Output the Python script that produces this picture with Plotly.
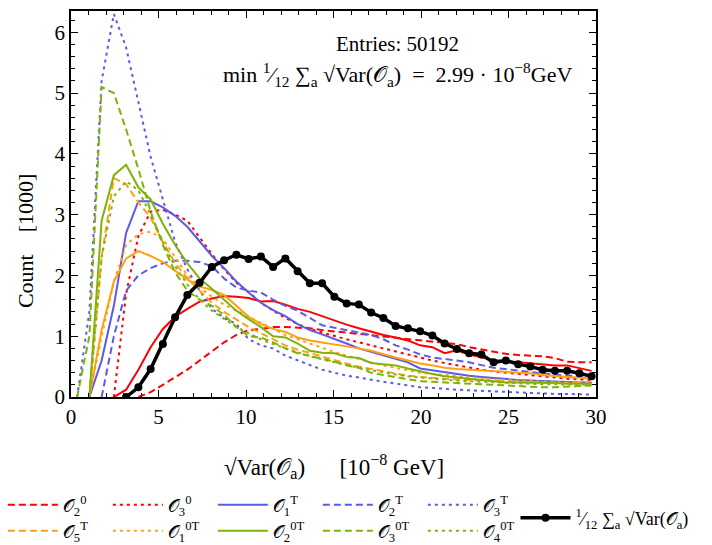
import plotly.graph_objects as go

# ---------------- data (counts in units of 1000) ----------------
bin_width = 0.7
n_bins = 43
bin_centers = [(i + 0.5) * bin_width for i in range(n_bins)]

o1_0 = [None] * 3 + [0.0, 0.12, 0.45, 0.82, 1.12, 1.32, 1.45, 1.57, 1.62, 1.66, 1.65, 1.63, 1.57, 1.58,
                     1.52, 1.45, 1.40, 1.33, 1.25, 1.19, 1.13, 1.07, 1.02, 0.98, 0.93, 0.85, 0.82, 0.72,
                     0.77, 0.70, 0.65, 0.61, 0.59, 0.57, 0.55, 0.53, 0.52, 0.52, 0.48, 0.43]
o2_0 = [None] * 5 + [0.0, 0.08, 0.20, 0.33, 0.45, 0.60, 0.75, 0.90, 1.02, 1.10, 1.12, 1.15, 1.15, 1.14,
                     1.13, 1.10, 1.08, 1.06, 1.04, 1.02, 1.00, 0.97, 0.95, 0.93, 0.91, 0.90, 0.87, 0.82,
                     0.78, 0.74, 0.71, 0.69, 0.68, 0.67, 0.64, 0.58, 0.57, 0.57]
o3_0 = [None] * 3 + [0.0, 1.70, 2.65, 3.05, 3.08, 3.00, 2.90, 2.62, 2.35, 2.10, 1.88, 1.73, 1.55, 1.42,
                     1.30, 1.20, 1.12, 1.06, 1.00, 0.95, 0.90, 0.85, 0.80, 0.74, 0.70, 0.65, 0.60, 0.56,
                     0.52, 0.48, 0.45, 0.42, 0.40, 0.37, 0.35, 0.34, 0.32, 0.30, 0.29, 0.28]
o1_T = [None] + [0.0, 0.60, 1.50, 2.70, 3.22, 3.22, 3.12, 2.98, 2.80, 2.55, 2.32, 2.12, 1.90, 1.72, 1.55,
                 1.43, 1.33, 1.20, 1.10, 1.03, 0.96, 0.88, 0.80, 0.74, 0.68, 0.63, 0.57, 0.47, 0.44, 0.40,
                 0.37, 0.35, 0.33, 0.31, 0.30, 0.28, 0.27, 0.26, 0.25, 0.25, 0.24, 0.24]
o2_T = [None] * 2 + [0.0, 1.00, 1.75, 2.00, 2.12, 2.20, 2.24, 2.24, 2.22, 2.15, 1.95, 1.80, 1.75, 1.72,
                     1.60, 1.50, 1.42, 1.30, 1.18, 1.14, 1.10, 1.07, 1.02, 0.95, 0.85, 0.78, 0.70, 0.65,
                     0.63, 0.60, 0.57, 0.52, 0.48, 0.46, 0.43, 0.41, 0.39, 0.37, 0.35, 0.35, 0.34]
o3_T = [0.0, 1.40, 5.20, 6.30, 5.75, 4.85, 3.95, 3.25, 2.55, 2.10, 1.75, 1.45, 1.30, 1.20, 0.95, 0.85,
        0.80, 0.68, 0.60, 0.52, 0.45, 0.40, 0.35, 0.32, 0.28, 0.25, 0.22, 0.19, 0.16, 0.15, 0.13, 0.12,
        0.11, 0.10, 0.09, 0.08, 0.07, 0.06, 0.06, 0.05, 0.05, 0.04, 0.04]
o4_T = [None] + [0.0, 1.10, 1.90, 2.28, 2.40, 2.32, 2.22, 2.07, 1.93, 1.82, 1.76, 1.68, 1.50, 1.32, 1.20,
                 1.12, 1.07, 0.98, 0.93, 0.90, 0.86, 0.83, 0.80, 0.76, 0.70, 0.65, 0.60, 0.55, 0.52, 0.48,
                 0.46, 0.45, 0.43, 0.42, 0.41, 0.41, 0.39, 0.36, 0.34, 0.33, 0.32, 0.30]
o5_T = [None] + [0.0, 2.30, 3.60, 3.50, 3.20, 2.95, 2.55, 2.20, 1.95, 1.75, 1.55, 1.40, 1.28, 1.15, 1.05,
                 0.95, 0.85, 0.78, 0.72, 0.66, 0.60, 0.55, 0.50, 0.46, 0.42, 0.38, 0.35, 0.33, 0.31, 0.30,
                 0.29, 0.28, 0.27, 0.26, 0.26, 0.25, 0.25, 0.24, 0.24, 0.23, 0.23, 0.22]
o1_0T = [None] + [0.0, 1.00, 1.90, 2.50, 2.68, 2.72, 2.60, 2.30, 2.00, 1.80, 1.65, 1.52, 1.42, 1.32, 1.22,
                  1.12, 1.02, 0.95, 0.88, 0.80, 0.74, 0.68, 0.62, 0.57, 0.52, 0.48, 0.44, 0.40, 0.38, 0.36,
                  0.34, 0.32, 0.30, 0.29, 0.28, 0.27, 0.26, 0.25, 0.24, 0.23, 0.23, 0.22]
o2_0T = [None] + [0.0, 2.90, 3.65, 3.82, 3.45, 3.25, 2.85, 2.50, 2.20, 1.95, 1.78, 1.60, 1.42, 1.28, 1.15,
                  1.00, 0.98, 0.88, 0.76, 0.73, 0.72, 0.66, 0.64, 0.56, 0.54, 0.52, 0.47, 0.42, 0.38, 0.34,
                  0.32, 0.30, 0.28, 0.25, 0.24, 0.24, 0.24, 0.23, 0.23, 0.22, 0.22, 0.22]
o3_0T = [0.0, 1.00, 5.10, 5.00, 4.40, 3.75, 3.05, 2.50, 2.05, 1.75, 1.60, 1.50, 1.35, 1.15, 1.00, 0.98,
         0.90, 0.80, 0.72, 0.68, 0.63, 0.58, 0.52, 0.48, 0.40, 0.36, 0.33, 0.30, 0.26, 0.25, 0.24, 0.23,
         0.21, 0.20, 0.19, 0.18, 0.17, 0.16, 0.16, 0.16, 0.17, 0.18, 0.19]
o4_0T = [None] + [0.0, 2.30, 3.30, 3.55, 3.40, 3.00, 2.55, 2.15, 1.85, 1.60, 1.42, 1.28, 1.15, 1.05, 0.95,
                  0.87, 0.80, 0.73, 0.67, 0.62, 0.57, 0.52, 0.48, 0.44, 0.40, 0.37, 0.34, 0.32, 0.30, 0.28,
                  0.27, 0.26, 0.25, 0.24, 0.23, 0.22, 0.22, 0.21, 0.21, 0.20, 0.20, 0.20]
mean_sd = [None] * 4 + [0.0, 0.16, 0.46, 0.87, 1.31, 1.68, 1.88, 2.14, 2.25, 2.34, 2.27, 2.31, 2.14, 2.28,
                        2.07, 1.87, 1.87, 1.65, 1.54, 1.52, 1.39, 1.30, 1.17, 1.13, 1.08, 1.01, 0.88, 0.79,
                        0.72, 0.70, 0.57, 0.60, 0.54, 0.50, 0.45, 0.43, 0.43, 0.39, 0.34]

x_ticks = [0, 5, 10, 15, 20, 25, 30]
y_ticks = [0, 1, 2, 3, 4, 5, 6]

O = "𝒪"
RED, BLUE, ORANGE, GREEN = "#ff0000", "#5a5aeb", "#ffa010", "#80b20a"
DASH, DOT = "7px,4px", "3px,4px"

series = [
    # name, values, color, dash, legend (None = not listed), rank
    (f"{O}<sub>1</sub><sup>0</sup>", o1_0, RED, "solid", None, 0),
    (f"{O}<sub>2</sub><sup>0</sup>", o2_0, RED, DASH, "legend", 1),
    (f"{O}<sub>3</sub><sup>0</sup>", o3_0, RED, DOT, "legend", 2),
    (f"{O}<sub>1</sub><sup>T</sup>", o1_T, BLUE, "solid", "legend", 3),
    (f"{O}<sub>2</sub><sup>T</sup>", o2_T, BLUE, DASH, "legend", 4),
    (f"{O}<sub>3</sub><sup>T</sup>", o3_T, BLUE, DOT, "legend", 5),
    (f"{O}<sub>4</sub><sup>T</sup>", o4_T, ORANGE, "solid", None, 0),
    (f"{O}<sub>5</sub><sup>T</sup>", o5_T, ORANGE, DASH, "legend2", 1),
    (f"{O}<sub>1</sub><sup>0T</sup>", o1_0T, ORANGE, DOT, "legend2", 2),
    (f"{O}<sub>2</sub><sup>0T</sup>", o2_0T, GREEN, "solid", "legend2", 3),
    (f"{O}<sub>3</sub><sup>0T</sup>", o3_0T, GREEN, DASH, "legend2", 4),
    (f"{O}<sub>4</sub><sup>0T</sup>", o4_0T, GREEN, DOT, "legend2", 5),
]

fig = go.Figure()
for name, vals, color, dash, leg, rank in series:
    fig.add_trace(go.Scatter(
        x=bin_centers, y=vals, mode="lines", name=name,
        line=dict(color=color, width=2, dash=dash),
        showlegend=leg is not None, legend=leg or "legend", legendrank=rank,
        connectgaps=False,
    ))

fig.add_trace(go.Scatter(
    x=bin_centers, y=mean_sd, mode="lines+markers",
    name="<sup>1</sup>⁄<sub>12</sub> ∑<sub>a</sub> √Var(" + O + "<sub>a</sub>)",
    line=dict(color="black", width=3.5), marker=dict(color="black", size=8),
    legend="legend3",
))

FONT = "Liberation Serif"
axis_common = dict(
    showline=True, linecolor="black", linewidth=1.5, mirror="ticks",
    ticks="inside", ticklen=7, tickwidth=1.2, tickcolor="black",
    showgrid=False, zeroline=False,
    tickfont=dict(family=FONT, size=21, color="black"),
)

fig.update_xaxes(range=[0, 30], tickvals=x_ticks,
                 minor=dict(dtick=1, ticks="inside", ticklen=4, tickcolor="black", tickwidth=1),
                 **axis_common)
fig.update_yaxes(range=[0, 6.35], tickvals=y_ticks,
                 minor=dict(dtick=0.2, ticks="inside", ticklen=4, tickcolor="black", tickwidth=1),
                 **axis_common)

leg_common = dict(orientation="h", xref="container", yref="container", xanchor="left", yanchor="middle",
                  font=dict(family=FONT, size=18, color="black"), bgcolor="rgba(0,0,0,0)",
                  itemwidth=50, tracegroupgap=0)

fig.update_layout(
    width=712, height=545,
    margin=dict(l=71, r=116, t=9, b=148),
    paper_bgcolor="white", plot_bgcolor="white",
    font=dict(family=FONT, size=19, color="black"),
    legend=dict(x=0.004, y=1 - 505 / 545, entrywidthmode="pixels", entrywidth=40, **leg_common),
    legend2=dict(x=0.004, y=1 - 531 / 545, entrywidthmode="pixels", entrywidth=40, **leg_common),
    legend3=dict(x=0.724, y=1 - 518 / 545, **leg_common),
    annotations=[
        dict(text="Entries: 50192", xref="paper", yref="paper", x=0.621, y=(396.5 - 42) / 387.5,
             yanchor="middle", showarrow=False, font=dict(size=21)),
        dict(text="min <sup>1</sup>⁄<sub>12</sub> ∑<sub>a</sub> √Var(" + O
             + "<sub>a</sub>)  =  2.99 · 10<sup>−8</sup>GeV",
             xref="paper", yref="paper", x=0.621, y=(396.5 - 73) / 387.5,
             yanchor="middle", showarrow=False, font=dict(size=22)),
        dict(text="√Var(" + O + "<sub>a</sub>)      [10<sup>−8</sup> GeV]", xref="paper", yref="paper",
             x=0.501, y=(396.5 - 466) / 387.5, yanchor="middle", showarrow=False, font=dict(size=23)),
        dict(text="Count    [1000]", xref="paper", yref="paper", textangle=-90,
             x=(25 - 71) / 525, y=(396.5 - 240) / 387.5, xanchor="center", yanchor="middle",
             showarrow=False, font=dict(size=22)),
    ],
)

fig.write_html("out.html")
